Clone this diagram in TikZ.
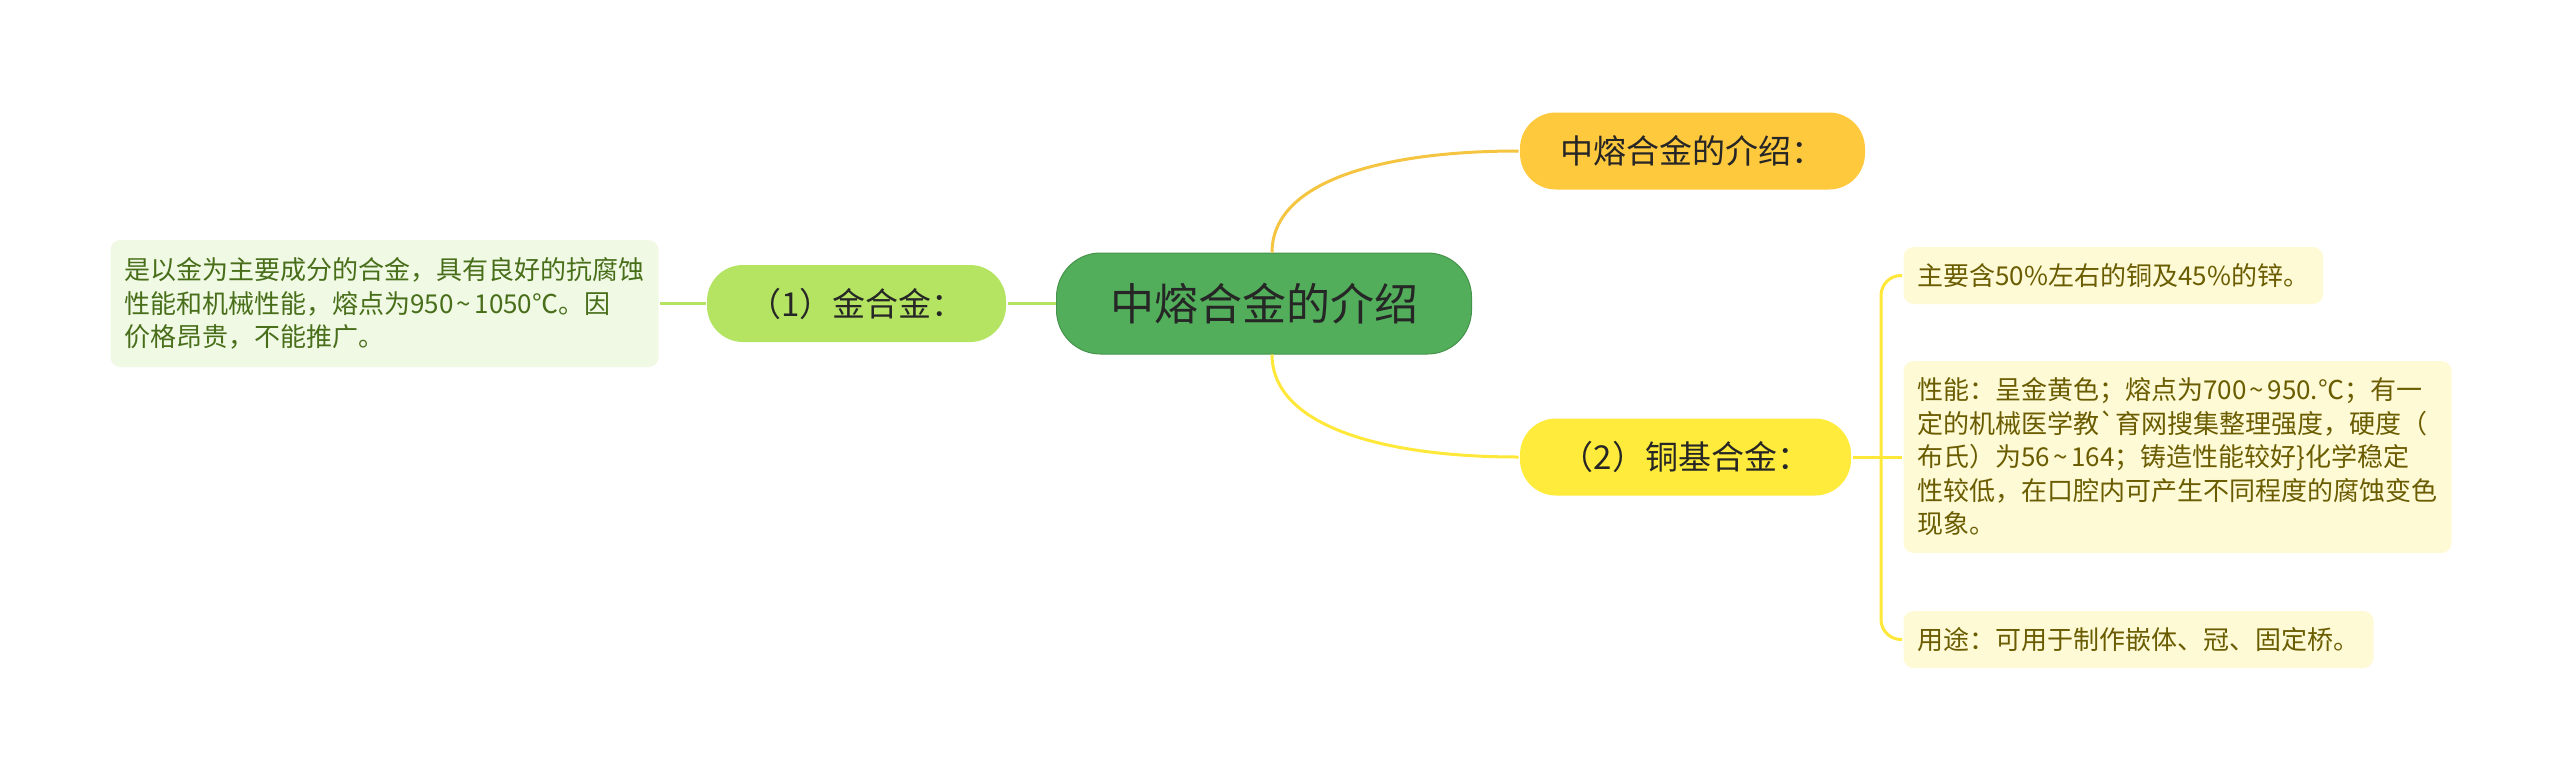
\documentclass[tikz,border=0pt]{standalone}
\usepackage{fontspec}
\newfontfamily\cjkfont{Noto Sans CJK SC}
\newcommand\rangetilde{\makebox[0.8em]{\textasciitilde}}

\definecolor{rootgreen}{RGB}{82,174,90}
\definecolor{introorange}{RGB}{255,201,62}
\definecolor{cuyellow}{RGB}{255,235,59}
\definecolor{aulime}{RGB}{180,228,98}
\definecolor{leafgbg}{RGB}{240,249,228}
\definecolor{leafgtext}{RGB}{72,110,26}
\definecolor{leafybg}{RGB}{255,250,214}
\definecolor{leafytext}{RGB}{106,92,0}
\definecolor{orangeline}{RGB}{245,197,66}
\definecolor{yellowline}{RGB}{255,232,58}

\begin{document}
\begin{tikzpicture}[x=0.5pt,y=-0.5pt,line width=1.5pt,font=\cjkfont,
  root/.style={fill=rootgreen,draw=rootgreen!85!black,line width=0.5pt,rounded corners=22pt,
    minimum width=207.5pt,minimum height=50.5pt,text=black!85,
    font=\cjkfont\fontsize{22}{26}\selectfont},
  topic/.style={rounded corners=18pt,minimum height=38.5pt,text=black!85,
    font=\cjkfont\fontsize{16.5}{20}\selectfont},
  leafg/.style={fill=leafgbg,text=leafgtext,rounded corners=5pt,align=left,
    inner xsep=7pt,font=\cjkfont\fontsize{13}{16.75}\selectfont},
  leafy/.style={fill=leafybg,text=leafytext,rounded corners=5pt,align=left,
    inner xsep=7pt,font=\cjkfont\fontsize{13}{16.75}\selectfont}]
  \fill[white] (0,0) rectangle (2560,782);
  \useasboundingbox (0,0) rectangle (2560,782);

  % 中心
  \node[root] (root) at (1264,303.5) {中熔合金的介绍};

  % 分支
  \node[topic,fill=introorange,minimum width=172.5pt] (intro) at (1692.5,151) {中熔合金的介绍：};
  \node[topic,fill=cuyellow,minimum width=165.5pt] (cu) at (1685.5,457) {（2）铜基合金：};
  \node[topic,fill=aulime,minimum width=149.5pt] (au) at (856.5,303.5) {（1）金合金：};

  % 叶子
  \node[leafg,anchor=east,minimum height=63.5pt] (auleaf) at (660,303.5)
    {是以金为主要成分的合金，具有良好的抗腐蚀\\性能和机械性能，熔点为950\rangetilde1050℃。因\\价格昂贵，不能推广。};
  \node[leafy,anchor=west,minimum height=28.5pt] (culeafa) at (1902,275.5)
    {主要含50\%左右的铜及45\%的锌。};
  \node[leafy,anchor=west,minimum height=96pt] (culeafb) at (1902,457)
    {性能：呈金黄色；熔点为700\rangetilde950.℃；有一\\定的机械医学教`育网搜集整理强度，硬度（\\布氏）为56\rangetilde164；铸造性能较好\}化学稳定\\性较低，在口腔内可产生不同程度的腐蚀变色\\现象。};
  \node[leafy,anchor=west,minimum height=28.5pt] (culeafc) at (1902,639.5)
    {用途：可用于制作嵌体、冠、固定桥。};

  % 连线
  \draw[orangeline] ([xshift=4pt]root.north) .. controls +(0,-70) and +(-140,0) .. (intro.west);
  \draw[yellowline] ([xshift=4pt]root.south) .. controls +(0,70) and +(-140,0) .. (cu.west);
  \draw[aulime] (root.west) -- (au.east);
  \draw[aulime] (au.west) -- (auleaf.east);

  \coordinate (fork) at (1881,457);
  \draw[yellowline] (cu.east) -- (culeafb.west);
  \draw[yellowline,rounded corners=10pt] (culeafa.west) -| (fork) |- (culeafc.west);
\end{tikzpicture}
\end{document}
